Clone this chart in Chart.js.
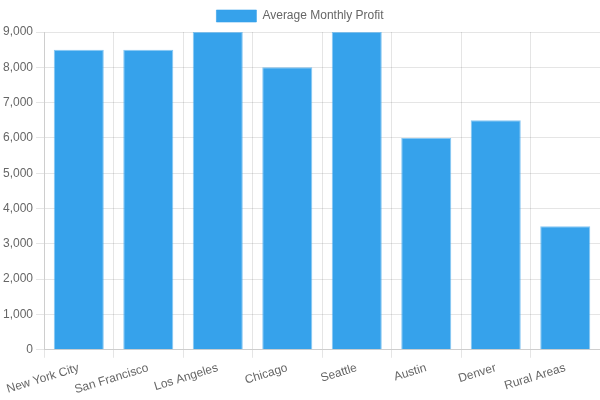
<!DOCTYPE html>
<html>
<head>
<meta charset="utf-8">
<script src="https://cdn.jsdelivr.net/npm/chart.js@4"></script>
<style>
html,body{margin:0;padding:0;background:#fff;}
#wrap{width:600px;height:400px;}
</style>
</head>
<body>
<div id="wrap"><canvas id="c"></canvas></div>
<script>
const categories = ["New York City","San Francisco","Los Angeles","Chicago","Seattle","Austin","Denver","Rural Areas"];
const profits = [8500, 8500, 9000, 8000, 9000, 6000, 6500, 3500];
const seriesLabel = "Average Monthly Profit";

Chart.defaults.font.family = "'Liberation Sans', Arial, sans-serif";
new Chart(document.getElementById('c'), {
  type: 'bar',
  data: {
    labels: categories,
    datasets: [{
      label: seriesLabel,
      data: profits,
      backgroundColor: 'rgb(54,162,235)',
      borderColor: 'rgba(54,162,235,0.6)',
      borderWidth: 1
    }]
  },
  options: {
    responsive: true,
    maintainAspectRatio: false,
    animation: false,
    scales: {
      y: { beginAtZero: true, ticks: { stepSize: 1000 } }
    }
  }
});
</script>
</body>
</html>
